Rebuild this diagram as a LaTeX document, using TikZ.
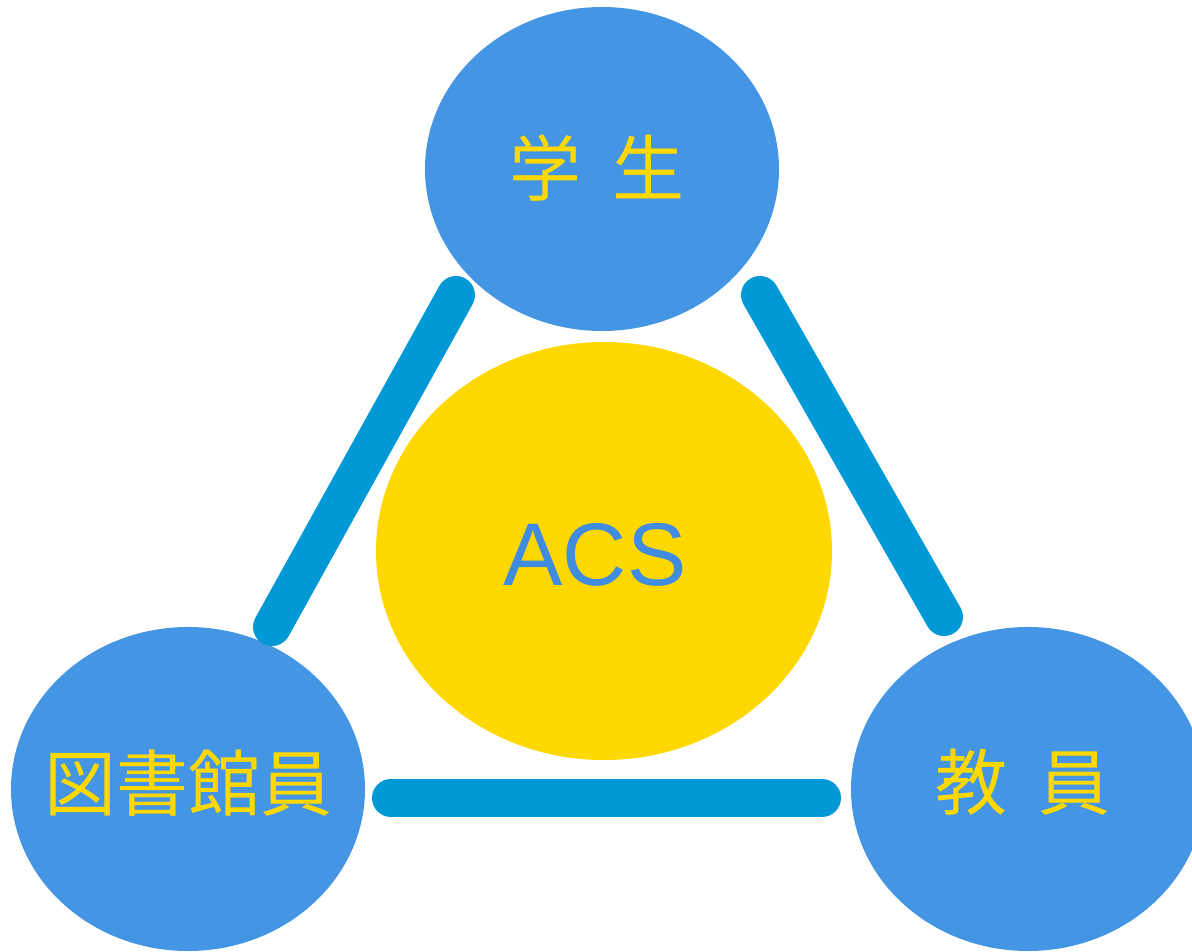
\documentclass[tikz,border=0pt]{standalone}
\usepackage{fontspec}
\setmainfont{Liberation Sans}
\newfontfamily\jpfont{Noto Sans CJK JP}
\definecolor{roleblue}{HTML}{4496E4}
\definecolor{coreyellow}{HTML}{FFD800}
\definecolor{linkblue}{HTML}{0098D5}
\definecolor{acsblue}{HTML}{3F8CE0}
\tikzset{
  rolelabel/.style={text=coreyellow, font=\jpfont\fontsize{72}{80}\selectfont, inner sep=0pt},
  link/.style={draw=linkblue, line width=38pt, line cap=round},
}
\begin{document}
\begin{tikzpicture}[x=1pt,y=-1pt]
\useasboundingbox (0,0) rectangle (1192,951);
\clip (0,0) rectangle (1192,951);
% ellipses
\fill[roleblue] (602,169) ellipse [x radius=177, y radius=162];
\fill[coreyellow] (604,551) ellipse [x radius=228, y radius=209];
\fill[roleblue] (188,789) ellipse [x radius=177, y radius=162];
\fill[roleblue] (1028,789) ellipse [x radius=177, y radius=162];
% labels
\node[rolelabel] (student) at (597,168) {学\hspace{0.42em}生};
\node[rolelabel] (librarian) at (189,783) {図書館員};
\node[rolelabel] (faculty) at (1023,782) {教\hspace{0.42em}員};
\node[text=acsblue, font=\fontsize{89}{96}\selectfont, inner sep=0pt] (acs) at (595,555) {ACS};
% connector endpoints
\coordinate (sL) at (456,295);
\coordinate (lT) at (272,627);
\coordinate (sR) at (760,295);
\coordinate (fT) at (944,617);
\coordinate (lR) at (391,798);
\coordinate (fL) at (822,798);
\draw[link] (sL) -- (lT);
\draw[link] (sR) -- (fT);
\draw[link] (lR) -- (fL);
\end{tikzpicture}
\end{document}
